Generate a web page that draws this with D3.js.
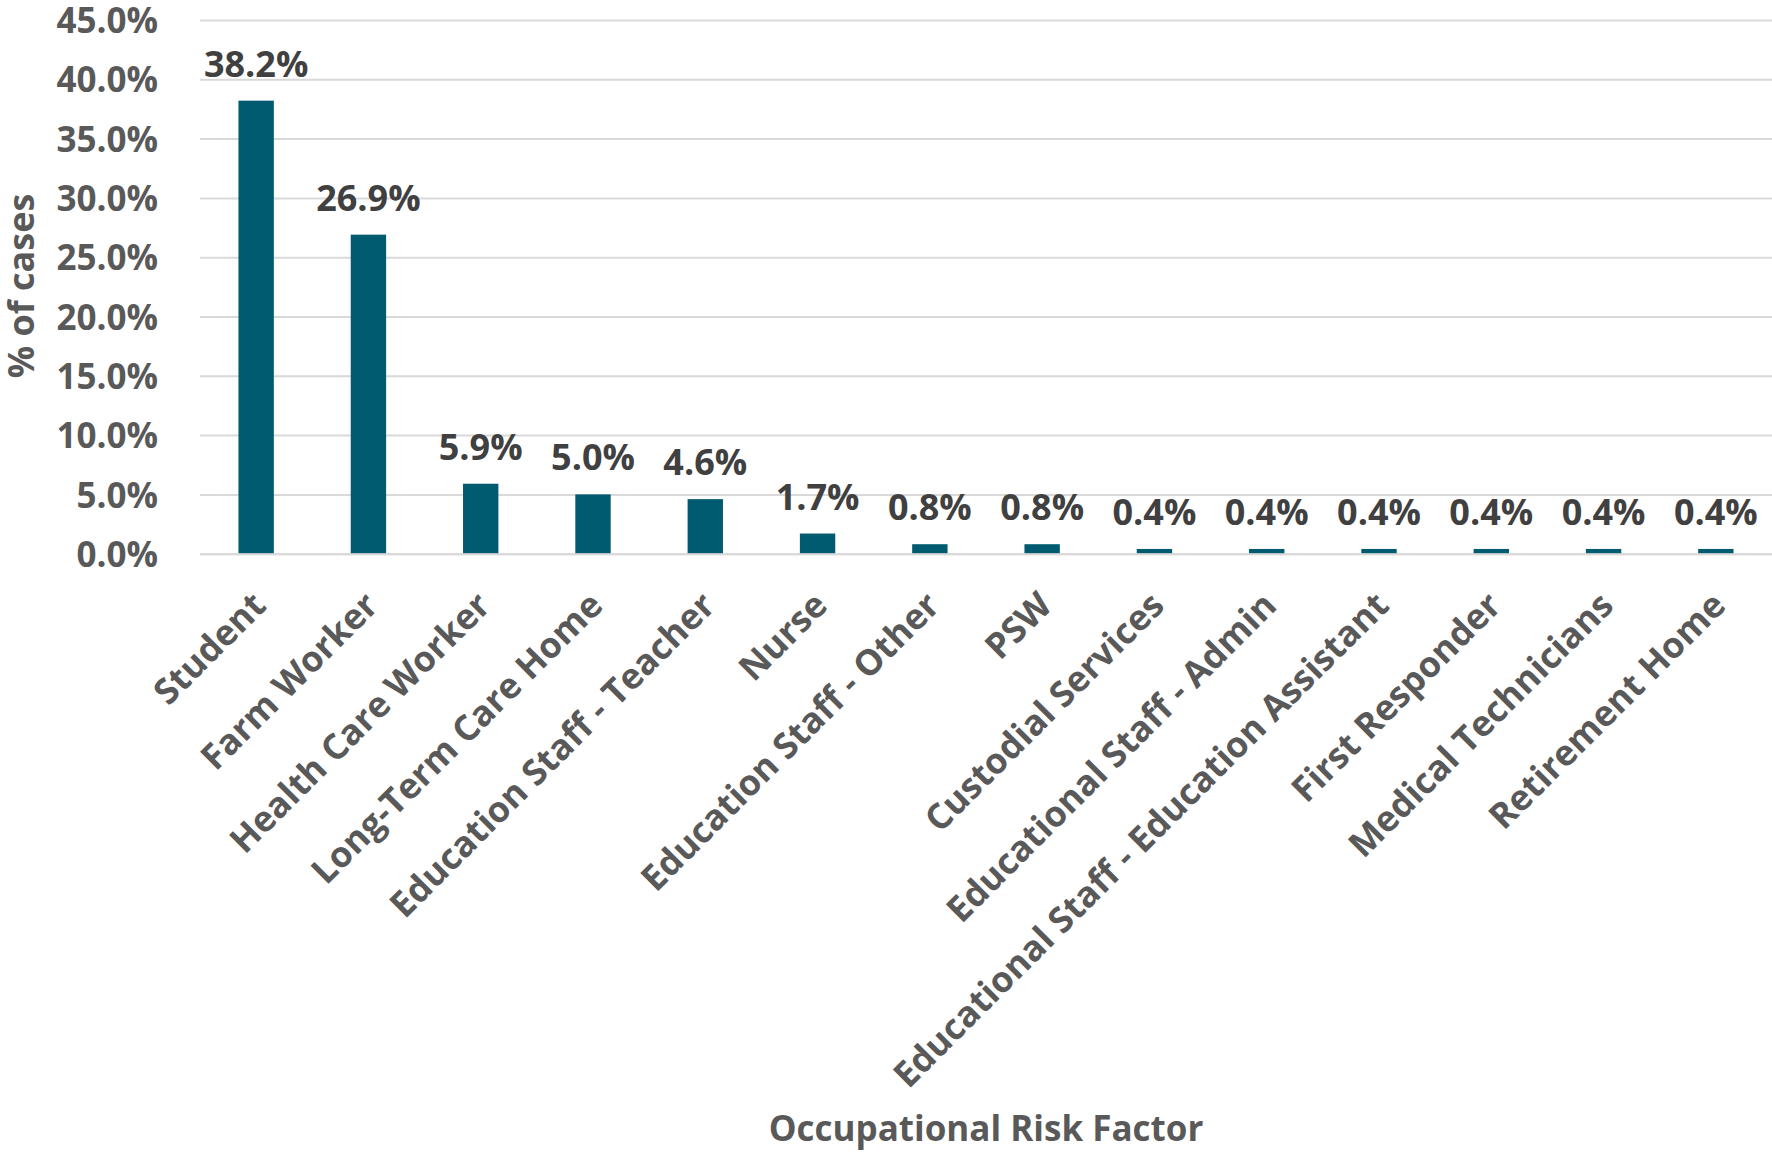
<!DOCTYPE html>
<html>
<head>
<meta charset="utf-8">
<script src="https://cdn.jsdelivr.net/npm/d3@7"></script>
<style>
  html, body { margin: 0; padding: 0; background: #ffffff; }
  svg { display: block; font-family: "Open Sans", "Noto Sans", sans-serif; }
</style>
</head>
<body>
<svg id="chart" width="1772" height="1152"></svg>
<script>
const categories = [
  "Student", "Farm Worker", "Health Care Worker", "Long-Term Care Home",
  "Education Staff - Teacher", "Nurse", "Education Staff - Other", "PSW",
  "Custodial Services", "Educational Staff - Admin",
  "Educational Staff - Education Assistant", "First Responder",
  "Medical Technicians", "Retirement Home"
];
const values = [38.2, 26.9, 5.9, 5.0, 4.6, 1.7, 0.8, 0.8, 0.4, 0.4, 0.4, 0.4, 0.4, 0.4];
const yTicks = [0, 5, 10, 15, 20, 25, 30, 35, 40, 45];
const yTitle = "% of cases";
const xTitle = "Occupational Risk Factor";

const svg = d3.select("#chart");
const plotLeft = 200, plotRight = 1772, plotTop = 20, plotBottom = 553.7;

const x = d3.scaleBand().domain(categories).range([plotLeft, plotRight]).paddingInner(0.685).paddingOuter(0.3425);
const y = d3.scaleLinear().domain([0, 45]).range([plotBottom, plotTop]);

// gridlines + y tick labels
const yAxis = d3.axisLeft(y).tickValues(yTicks).tickSize(-(plotRight - plotLeft)).tickPadding(42)
  .tickFormat(d => d.toFixed(1) + "%");
const gy = svg.append("g").attr("transform", `translate(${plotLeft},0)`).call(yAxis);
gy.select(".domain").remove();
gy.selectAll(".tick line").attr("stroke", "#d9d9d9").attr("stroke-width", 2);
gy.selectAll(".tick text")
  .attr("fill", "#595959").attr("font-size", 35).attr("font-weight", 700)
  .attr("font-family", "'Open Sans', sans-serif")
  .attr("dy", "0.36em");

// bars
svg.append("g").selectAll("rect").data(values).join("rect")
  .attr("x", (d, i) => x(categories[i]))
  .attr("width", x.bandwidth())
  .attr("y", d => y(d))
  .attr("height", d => y(0) - y(d))
  .attr("fill", "#005a70");

// data labels
svg.append("g").selectAll("text").data(values).join("text")
  .attr("x", (d, i) => x(categories[i]) + x.bandwidth() / 2)
  .attr("y", d => y(d) - 24)
  .attr("text-anchor", "middle")
  .attr("font-size", 36).attr("font-weight", 700).attr("fill", "#404040")
  .text(d => d.toFixed(1) + "%");

// x axis category labels
const xAxis = d3.axisBottom(x).tickSize(0).tickPadding(0);
const gx = svg.append("g").attr("transform", `translate(0,${plotBottom})`).call(xAxis);
gx.select(".domain").attr("stroke", "#d9d9d9").attr("stroke-width", 2);
gx.selectAll(".tick text")
  .attr("fill", "#595959").attr("font-size", 35.5).attr("font-weight", 700)
  .attr("font-family", "'Open Sans', sans-serif")
  .attr("text-anchor", "end")
  .attr("transform", "translate(3,45) rotate(-45)")
  .attr("dy", "0.35em").attr("y", 0);

// axis titles
svg.append("text")
  .attr("transform", `translate(34,286) rotate(-90)`)
  .attr("text-anchor", "middle")
  .attr("font-size", 36).attr("font-weight", 700).attr("fill", "#595959")
  .text(yTitle);

svg.append("text")
  .attr("x", (plotLeft + plotRight) / 2).attr("y", 1141)
  .attr("text-anchor", "middle")
  .attr("font-size", 35).attr("font-weight", 700).attr("fill", "#595959")
  .text(xTitle);
</script>
</body>
</html>
